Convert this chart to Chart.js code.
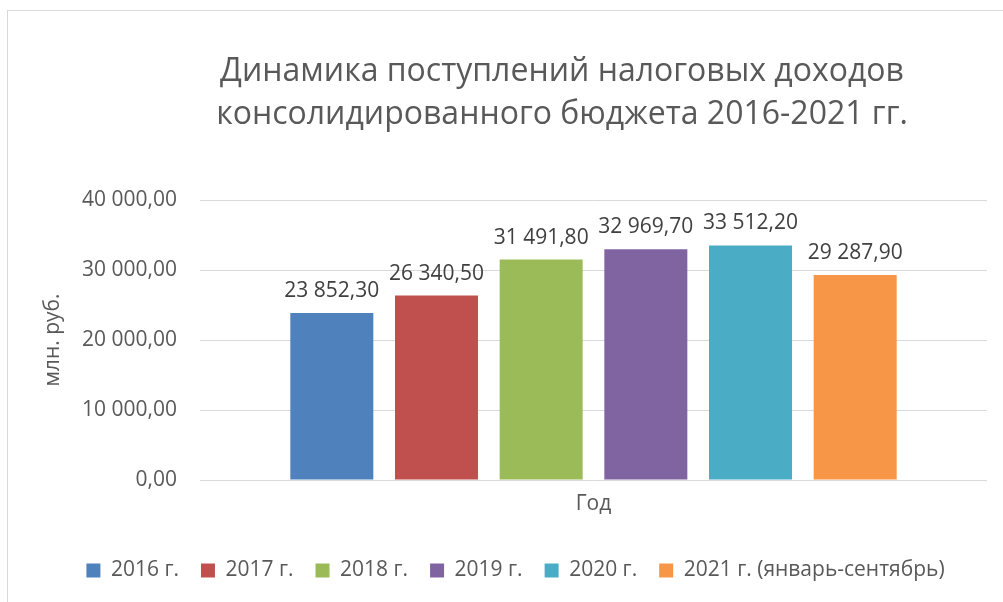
<!DOCTYPE html>
<html>
<head>
<meta charset="utf-8">
<script src="https://cdn.jsdelivr.net/npm/chart.js@4/dist/chart.umd.min.js"></script>
<style>
    html, body { margin: 0; padding: 0; background: #fff; overflow: hidden; }
    #frame { position: absolute; left: 7px; top: 10px; width: 1100px; height: 700px; border: 1px solid #D9D9D9; }
    #wrap { position: absolute; left: 0; top: 0; width: 1003px; height: 602px; }
</style>
</head>
<body>
<div id="frame"></div>
<div id="wrap"><canvas id="chart1" width="1003" height="602"></canvas></div>
<script>
// chart values

const titleLines = ['Динамика поступлений налоговых доходов', 'консолидированного бюджета 2016-2021 гг.'];
const categories = ['Год'];
const seriesNames = ['2016 г.', '2017 г.', '2018 г.', '2019 г.', '2020 г.', '2021 г. (январь-сентябрь)'];
const seriesValues = [23852.30, 26340.50, 31491.80, 32969.70, 33512.20, 29287.90];
const seriesColors = ['#4F81BD', '#C0504D', '#9BBB59', '#8064A2', '#4BACC6', '#F79646'];
const yTicks = [0, 10000, 20000, 30000, 40000];
const yTitle = 'млн. руб.';

const fontFamily = "'Open Sans', sans-serif";

function formatNumber(v) {
    let parts = v.toFixed(2).split('.');
    return parts[0].replace(/\B(?=(\d{3})+(?!\d))/g, ' ') + ',' + parts[1];
}

// title drawn by hand, it is centred off the plot like in excel
const titlePlugin = {
    id: 'titleLines',
    afterDraw(chart) {
        let ctx = chart.ctx;
        ctx.save();
        ctx.font = '32px ' + fontFamily;
        ctx.fillStyle = '#595959';
        ctx.textAlign = 'center';
        ctx.textBaseline = 'middle';
        for (let i = 0; i < titleLines.length; i++) {
            ctx.fillText(titleLines[i], 562, 72 + i * 43);
        }
        ctx.restore();
    }
};

// fixed legend height so the plot keeps its place
const legendHeight = {
    id: 'legendHeight',
    beforeInit(chart) {
        let fit = chart.legend.fit;
        chart.legend.fit = function () {
            fit.call(this);
            this.height = 64;
        };
    }
};

// value above every bar
const valueLabels = {
    id: 'valueLabels',
    afterDatasetsDraw(chart) {
        let ctx = chart.ctx;
        ctx.save();
        ctx.font = '21px ' + fontFamily;
        ctx.fillStyle = '#404040';
        ctx.textAlign = 'center';
        ctx.textBaseline = 'alphabetic';
        chart.data.datasets.forEach((ds, i) => {
            let meta = chart.getDatasetMeta(i);
            meta.data.forEach((bar, j) => {
                ctx.fillText(formatNumber(ds.data[j]), bar.x, bar.y - 16);
            });
        });
        ctx.restore();
    }
};

function createChart(canvas) {
    let datasets = [];
    for (let i = 0; i < seriesNames.length; i++) {
        datasets.push({
            label: seriesNames[i],
            data: [seriesValues[i]],
            backgroundColor: seriesColors[i],
            borderWidth: 0,
            categoryPercentage: 0.798,
            barPercentage: 0.793
        });
    }

    return new Chart(canvas, {
        type: 'bar',
        data: {
            labels: categories,
            datasets: datasets
        },
        options: {
            responsive: false,
            animation: false,
            layout: {
                padding: {left: 44, right: 16, top: 200, bottom: 0}
            },
            plugins: {
                title: {display: false},
                tooltip: {enabled: false},
                legend: {
                    position: 'bottom',
                    labels: {
                        boxWidth: 14,
                        boxHeight: 14,
                        padding: 22,
                        color: '#595959',
                        font: {family: fontFamily, size: 21}
                    }
                }
            },
            scales: {
                x: {
                    grid: {display: false},
                    border: {display: false},
                    ticks: {
                        color: '#595959',
                        padding: 3,
                        font: {family: fontFamily, size: 21}
                    },
                    afterFit(scale) {
                        scale.height = 58;
                    }
                },
                y: {
                    min: 0,
                    max: 40000,
                    afterBuildTicks(scale) {
                        scale.ticks = yTicks.map(v => ({value: v}));
                    },
                    grid: {color: '#D9D9D9', lineWidth: 1, drawTicks: false},
                    border: {display: false},
                    ticks: {
                        color: '#595959',
                        padding: 23,
                        font: {family: fontFamily, size: 21},
                        callback: v => formatNumber(v)
                    },
                    title: {
                        display: true,
                        text: yTitle,
                        color: '#595959',
                        padding: {top: -4, bottom: 0},
                        font: {family: fontFamily, size: 21}
                    },
                    afterFit(scale) {
                        scale.width = 156;
                    }
                }
            }
        },
        plugins: [titlePlugin, legendHeight, valueLabels]
    });
}

createChart(document.getElementById('chart1'));
</script>
</body>
</html>
